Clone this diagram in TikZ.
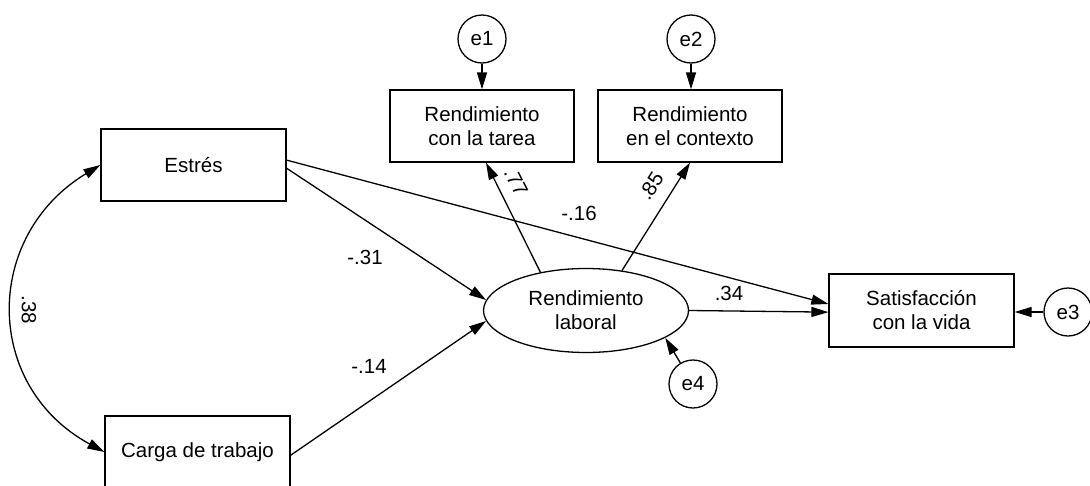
\documentclass[tikz,border=0pt]{standalone}
\usepackage{fontspec}
\setmainfont{Liberation Sans}
\usetikzlibrary{arrows.meta,shapes.geometric}
\tikzset{
  box/.style={draw, line width=1.3pt, minimum width=185pt, minimum height=72pt, inner sep=0pt, align=center, font=\fontsize{20.5}{24}\selectfont},
  latent/.style={draw, ellipse, line width=1.3pt, minimum width=205pt, minimum height=84pt, inner sep=0pt, align=center, font=\fontsize{20.5}{24}\selectfont},
  err/.style={draw, circle, line width=1.3pt, minimum size=48pt, inner sep=0pt, font=\fontsize{20.5}{24}\selectfont},
  path/.style={line width=1.3pt, -{Triangle[length=17pt,width=10pt]}},
  coef/.style={inner sep=0pt, font=\fontsize{20.5}{24}\selectfont}
}
\begin{document}
\begin{tikzpicture}[x=1pt,y=-1pt]
\useasboundingbox (0,0) rectangle (1090,485);
\node[box] (estres) at (193.5,165) {Estrés};
\node[box] (carga) at (197.5,452) {Carga de trabajo};
\node[box, minimum width=184pt] (rct) at (482,126) {Rendimiento\\con la tarea};
\node[box, minimum width=184pt] (rc) at (690,126) {Rendimiento\\en el contexto};
\node[box, minimum height=73pt] (sat) at (921.5,310.5) {Satisfacción\\con la vida};
\node[latent] (ell) at (586,310.5) {Rendimiento\\laboral};
\node[err] (e1) at (482,39) {e1};
\node[err] (e2) at (691,39) {e2};
\node[err] (e3) at (1068,312) {e3};
\node[err] (e4) at (693,384) {e4};

\draw[path] (e1.south) -- (e1.south |- rct.north);
\draw[path] (e2.south) -- (e2.south |- rc.north);
\draw[path] (e3.west) -- (e3.west -| sat.east);
\draw[path] (e4) -- (ell.341);
\draw[path] (estres.3) -- (sat.176);
\draw[path] (estres.-2) -- (ell.174);
\draw[path] (carga.-2) -- (ell.186);
\draw[path] (ell.east) -- (sat.181);
\draw[path] (ell.140) -- ([xshift=4pt]rct.south);
\draw[path] (ell.48) -- (rc.south);
\draw[line width=1.3pt, {Triangle[length=17pt,width=10pt]}-{Triangle[length=17pt,width=10pt]}]
  (estres.west) .. controls (-17,236) and (-17,386) .. (carga.west);

\node[coef] (l31) at (365,257) {-.31};
\node[coef] (l14) at (369,366) {-.14};
\node[coef] (l16) at (579,213) {-.16};
\node[coef] (l34) at (729,293) {.34};
\node[coef, rotate=-90] (l38) at (29,310) {.38};
\node[coef, rotate=-63] (l77) at (516,182) {.77};
\node[coef, rotate=57] (l85) at (651,186) {.85};
\end{tikzpicture}
\end{document}
